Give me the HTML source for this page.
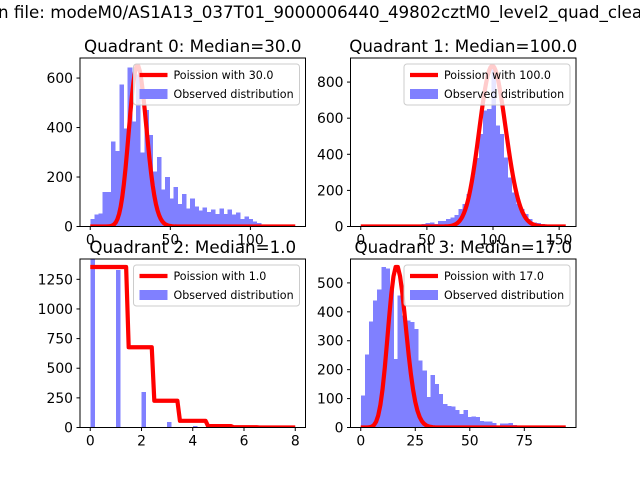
<!DOCTYPE html>
<html><head><meta charset="utf-8"><style>
html,body{margin:0;padding:0;background:#fff;}
svg{display:block;font-family:"DejaVu Sans","Liberation Sans",sans-serif;}
</style></head><body>
<svg id="fig" width="640" height="480" viewBox="0 0 640 480">
<rect x="0" y="0" width="640" height="480" fill="#fff"/>
<text x="-2" y="18" font-size="16.7">n file: modeM0/AS1A13_037T01_9000006440_49802cztM0_level2_quad_clean</text>
</svg>
<script>
// Quadrant 0 data
const q0Counts=[30,49,53,140,140,343,305,573,397,643,424,614,300,470,370,222,280,150,200,113,160,90,131,73,113,81,65,77,58,69,50,73,50,69,49,57,30,41,30,20,15];
const q0BinStart=0, q0BinWidth=2.6, q0Lambda=30, q0Scale=8930, q0LineMax=128;
const q0XTicks=[0,50,100], q0YTicks=[0,200,400,600];
// Quadrant 1 data
const q1Counts=[13,20,22,13,31,31,41,50,65,96,124,180,281,380,513,643,652,893,560,513,383,272,189,124,96,69,41,22,19,13,7];
const q1BinStart=46, q1BinWidth=3.1, q1Lambda=100, q1Scale=22300, q1LineMax=155;
const q1XTicks=[0,50,100,150], q1YTicks=[0,200,400,600,800];
// Quadrant 2 data
const q2BinCenters=[0,1,2,3,4];
const q2Counts=[2700,1330,300,45,11];
const q2BinWidth=0.16, q2Lambda=1, q2Scale=3680, q2LineMax=8;
const q2XTicks=[0,2,4,6,8], q2YTicks=[0,250,500,750,1000,1250];
// Quadrant 3 data
const q3Counts=[110,252,366,439,477,555,549,476,237,457,387,370,364,341,231,197,106,181,150,116,81,75,72,60,46,60,37,38,37,23,20,20,15,3,14,14,16,8];
const q3BinStart=0, q3BinWidth=1.88, q3Lambda=17, q3Scale=5763, q3LineMax=94;
const q3XTicks=[0,25,50,75], q3YTicks=[0,100,200,300,400,500];
const titles=["Quadrant 0: Median=30.0","Quadrant 1: Median=100.0","Quadrant 2: Median=1.0","Quadrant 3: Median=17.0"];
const legendLabels=["Poission with 30.0","Poission with 100.0","Poission with 1.0","Poission with 17.0"];

const NS="http://www.w3.org/2000/svg";
const fig=document.getElementById('fig');
function mk(tag,attrs,parent){const e=document.createElementNS(NS,tag);for(const k in attrs)e.setAttribute(k,attrs[k]);(parent||fig).appendChild(e);return e;}
function lgamma(n){let s=0;for(let i=2;i<=n;i++)s+=Math.log(i);return s;}
function pmf(k,l){return Math.exp(k*Math.log(l)-l-lgamma(k));}
function roundEven(x){const r=Math.round(x);if(Math.abs(x%1)===0.5&&r%2!==0)return r-1;return r;}

function panel(idx,box,lineMax,step,lambda,scale,bars,xticks,yticks){
  const xmin=-0.05*lineMax,xmax=1.05*lineMax;
  const ymax=1.05*scale*pmf(roundEven(lambda),lambda);
  const X=v=>box.x+(v-xmin)/(xmax-xmin)*box.w;
  const Y=v=>box.y+box.h-v/ymax*box.h;
  const g=mk('g',{});
  
  
  const cp=mk('clipPath',{id:'clip'+idx},g);
  mk('rect',{x:box.x,y:box.y,width:box.w,height:box.h},cp);
  const bg=mk('g',{'clip-path':'url(#clip'+idx+')'},g);
  const hg=mk('g',{'shape-rendering':'crispEdges'},bg);
  bars.forEach(b=>{
    const r=mk('rect',{x:X(b.x0),y:Y(b.v),width:X(b.x0+b.w)-X(b.x0)+0.4,height:Y(0)-Y(b.v),fill:'#8080ff'},hg);
    
    
  });
  let pts=[];
  for(let x=0;x<=lineMax+1e-9;x+=step){pts.push(X(x).toFixed(2)+','+Y(scale*pmf(roundEven(x),lambda)).toFixed(2));}
  const pl=mk('polyline',{points:pts.join(' '),fill:'none',stroke:'#ff0000','stroke-width':4.2,'stroke-linejoin':'round'},bg);
  
  
  mk('rect',{x:box.x,y:box.y,width:box.w,height:box.h,fill:'none',stroke:'#000','stroke-width':1},g);
  xticks.forEach(t=>{
    const px=X(t);
    mk('line',{x1:px,x2:px,y1:box.y+box.h,y2:box.y+box.h+3.5,stroke:'#000'},g);
    const tx=mk('text',{x:px,y:box.y+box.h+18,'font-size':13.9,'text-anchor':'middle'},g);
    tx.textContent=t;
    
    
  });
  yticks.forEach(t=>{
    const py=Y(t);
    mk('line',{x1:box.x-3.5,x2:box.x,y1:py,y2:py,stroke:'#000'},g);
    const tx=mk('text',{x:box.x-7,y:py+5,'font-size':13.9,'text-anchor':'end'},g);
    tx.textContent=t;
    
    
  });
  const tt=mk('text',{x:box.x+box.w/2,y:box.y-6,'font-size':16.7,'text-anchor':'middle'},g);
  tt.textContent=titles[idx];
  
  
  const lg=mk('g',{},g);
  
  
  const lx=box.x+box.w-172, ly=box.y+6;
  mk('rect',{x:lx,y:ly,width:166,height:41,rx:3,fill:'rgba(255,255,255,0.8)',stroke:'#cccccc'},lg);
  mk('line',{x1:lx+6,x2:lx+34,y1:ly+11,y2:ly+11,stroke:'#ff0000','stroke-width':4.2},lg);
  const l1=mk('text',{x:lx+40,y:ly+15,'font-size':11.1},lg);l1.textContent=legendLabels[idx];
  
  
  mk('rect',{x:lx+6,y:ly+25,width:28,height:10,fill:'#8080ff'},lg);
  const l2=mk('text',{x:lx+40,y:ly+34,'font-size':11.1},lg);l2.textContent='Observed distribution';
  
  
}
const mkBars=(start,w,counts)=>counts.map((v,i)=>({x0:start+i*w,w:w,v:v}));
panel(0,{x:80,y:58,w:225.5,h:168.5},q0LineMax,1,q0Lambda,q0Scale,mkBars(q0BinStart,q0BinWidth,q0Counts),q0XTicks,q0YTicks);
panel(1,{x:350.5,y:58,w:225.5,h:168.5},q1LineMax,1,q1Lambda,q1Scale,mkBars(q1BinStart,q1BinWidth,q1Counts),q1XTicks,q1YTicks);
panel(2,{x:80,y:259,w:225.5,h:168.5},q2LineMax,0.1,q2Lambda,q2Scale,q2BinCenters.map((c,i)=>({x0:c,w:q2BinWidth,v:q2Counts[i]})),q2XTicks,q2YTicks);
panel(3,{x:350.5,y:259,w:225.5,h:168.5},q3LineMax,1,q3Lambda,q3Scale,mkBars(q3BinStart,q3BinWidth,q3Counts),q3XTicks,q3YTicks);
</script>
</body></html>
